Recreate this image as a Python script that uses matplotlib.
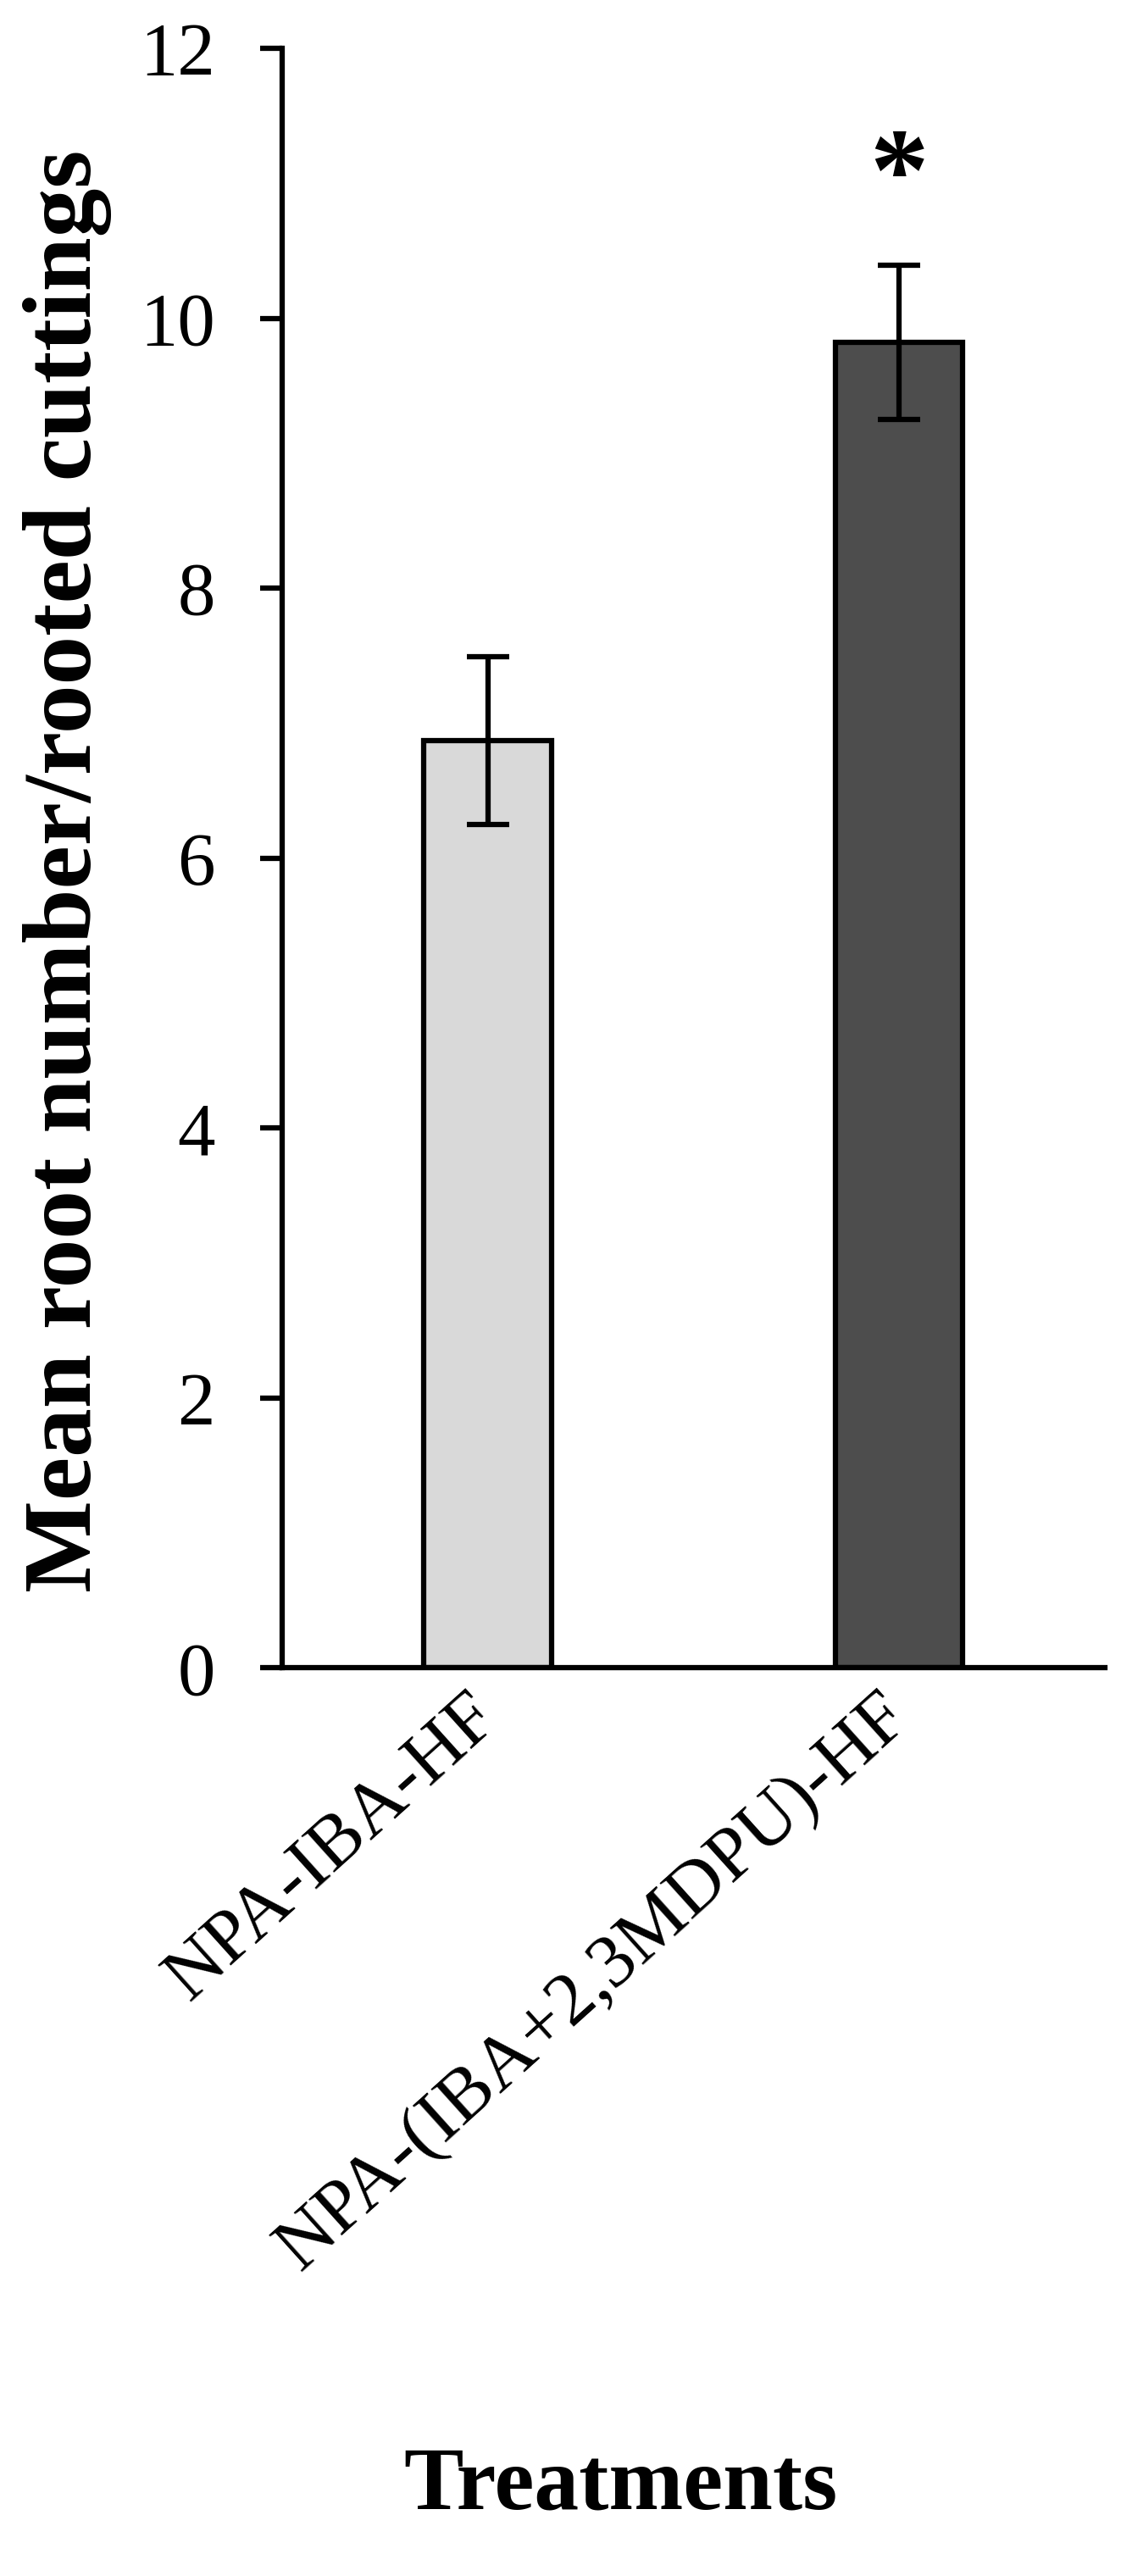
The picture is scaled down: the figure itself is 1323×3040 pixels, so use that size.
import matplotlib.pyplot as plt
import matplotlib.transforms as mtransforms

treatments = ["NPA-IBA-HF", "NPA-(IBA+2,3MDPU)-HF"]
mean_roots = [6.87, 9.82]
sem = [0.62, 0.57]
bar_colors = ["#d9d9d9", "#4d4d4d"]
star_over = [None, "*"]

plt.rcParams['font.family'] = ['Liberation Serif', 'DejaVu Serif']

fig = plt.figure(figsize=(13.23, 30.4), dpi=100)
ax = fig.add_axes([0.2517, 0.3526, 0.9856 - 0.2517, 0.98125 - 0.3526])

x = range(len(treatments))
ax.bar(x, mean_roots, width=0.31, color=bar_colors, edgecolor='black',
       linewidth=4.5, zorder=2)
ax.errorbar(x, mean_roots, yerr=sem, fmt='none', ecolor='black',
            elinewidth=4.5, capsize=18, capthick=4.5, zorder=3)

for i, s in enumerate(star_over):
    if s:
        ax.text(i, mean_roots[i] + sem[i] + 0.62, s, ha='center', va='center',
                fontsize=100, fontweight='bold')

ax.set_xlim(-0.5, 1.5)
ax.set_ylim(0, 12)
ax.set_yticks(range(0, 13, 2))
ax.set_xticks(list(x))
ax.set_xticklabels(treatments, rotation=42, ha='right')

ax.spines['top'].set_visible(False)
ax.spines['right'].set_visible(False)
ax.spines['left'].set_linewidth(4.5)
ax.spines['bottom'].set_linewidth(4.5)
ax.tick_params(axis='y', direction='out', length=19, width=4.5, pad=38, labelsize=64)
ax.tick_params(axis='x', length=0, pad=12, labelsize=64)

# nudge the rotated labels so the end of "HF" sits under the bar centre
shift = mtransforms.ScaledTranslation(28 / 100, 0, fig.dpi_scale_trans)
for lab in ax.get_xticklabels():
    lab.set_transform(lab.get_transform() + shift)

fig.text(80 / 1323, 1 - 1028 / 3040, "Mean root number/rooted cuttings",
         rotation=90, ha='center', va='center', fontsize=83, fontweight='bold')
fig.text(732 / 1323, 1 - 2935 / 3040, "Treatments",
         ha='center', va='center', fontsize=76, fontweight='bold')

fig.savefig("out.png", dpi=100)
